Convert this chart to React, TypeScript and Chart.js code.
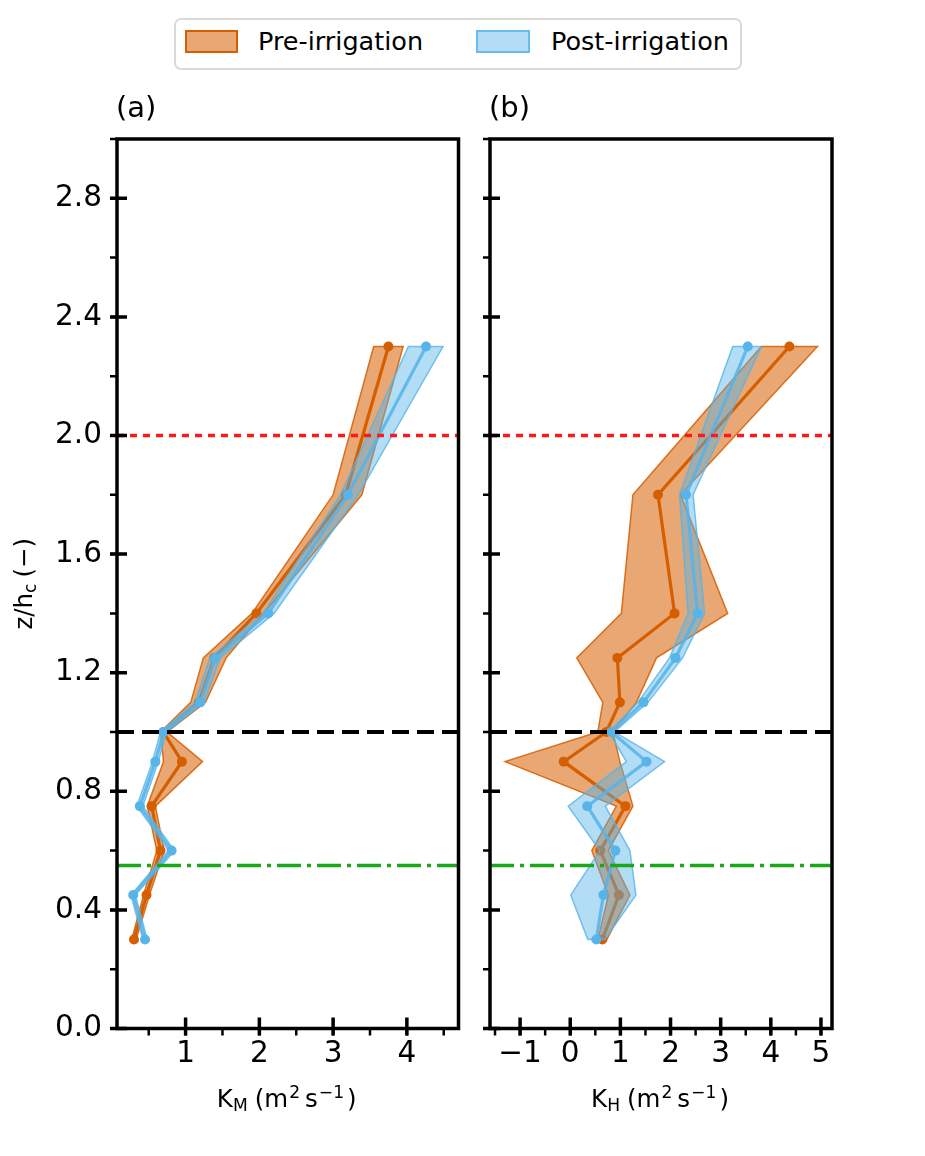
import { useEffect, useRef } from 'react';
import { Chart, registerables } from 'chart.js';

Chart.register(...registerables);

const FONT = "'DejaVu Sans', sans-serif";
const ORANGE = '#d55e00';
const BLUE = '#56b4e9';

// alturas normalizadas z/hc de los niveles de medida
const heights = [0.3, 0.45, 0.6, 0.75, 0.9, 1.0, 1.1, 1.25, 1.4, 1.8, 2.3];

// (a) K_M: media y banda (min / max)
const kmPreMean = [0.30, 0.47, 0.66, 0.54, 0.95, 0.70, 1.18, 1.39, 1.96, 3.17, 3.75];
const kmPreLow = [0.27, 0.43, 0.61, 0.48, 0.70, 0.66, 1.07, 1.24, 1.90, 3.00, 3.55];
const kmPreHigh = [0.33, 0.51, 0.71, 0.59, 1.23, 0.75, 1.27, 1.55, 2.06, 3.39, 3.95];
const kmPostMean = [0.45, 0.29, 0.81, 0.38, 0.59, 0.70, 1.20, 1.40, 2.12, 3.20, 4.26];
const kmPostLow = [0.42, 0.26, 0.77, 0.34, 0.55, 0.66, 1.13, 1.33, 2.05, 3.10, 4.02];
const kmPostHigh = [0.48, 0.32, 0.85, 0.42, 0.63, 0.74, 1.25, 1.47, 2.20, 3.34, 4.49];

// (b) K_H
const khPreMean = [0.64, 0.97, 0.60, 1.10, -0.13, 0.72, 0.99, 0.94, 2.08, 1.75, 4.37];
const khPreLow = [0.55, 0.76, 0.43, 0.92, -1.30, 0.55, 0.65, 0.13, 1.02, 1.25, 3.81];
const khPreHigh = [0.73, 1.19, 0.76, 1.25, 0.99, 0.85, 1.32, 1.72, 3.14, 2.20, 4.93];
const khPostMean = [0.52, 0.66, 0.90, 0.34, 1.52, 0.82, 1.46, 2.10, 2.54, 2.31, 3.54];
const khPostLow = [0.35, 0.01, 0.59, -0.04, 1.12, 0.77, 1.35, 1.98, 2.35, 2.18, 3.24];
const khPostHigh = [0.69, 1.31, 1.19, 0.70, 1.88, 0.88, 1.55, 2.24, 2.68, 2.45, 3.81];

// lineas de referencia: 2 hc, altura del dosel, altura media
const refHeights = [2.0, 1.0, 0.55];

const seriesNames = ['Pre-irrigation', 'Post-irrigation'];
const kmLimits = [0.07, 4.7];
const khLimits = [-1.6, 5.22];
const zLimits = [0, 3.0];

type Piece = { t: string; s?: number; dy?: number; gap?: number };

const kmTitle: Piece[] = [
  { t: 'K' },
  { t: 'M', s: 0.7, dy: 4 },
  { t: '(m', gap: 7 },
  { t: '2', s: 0.7, dy: -9, gap: 1 },
  { t: 's', gap: 5 },
  { t: '\u22121', s: 0.7, dy: -9, gap: 1 },
  { t: ')', gap: 3 },
];
const khTitle: Piece[] = kmTitle.map((p, i) => (i === 1 ? { ...p, t: 'H' } : p));
const zTitle: Piece[] = [
  { t: 'z/h' },
  { t: 'c', s: 0.7, dy: 4 },
  { t: '(\u2212)', gap: 6 },
];

const refStyles = [
  { color: '#ff1a1a', width: 3.5, dash: [7, 6] },
  { color: '#000000', width: 4, dash: [17, 8] },
  { color: '#1aa81a', width: 3.5, dash: [24, 6, 4, 6] },
];

function drawRich(ctx: CanvasRenderingContext2D, pieces: Piece[], cx: number, baseY: number, size: number) {
  const fontOf = (p: Piece) => `${size * (p.s ?? 1)}px ${FONT}`;
  let total = 0;
  const widths = pieces.map((p) => {
    ctx.font = fontOf(p);
    const w = ctx.measureText(p.t).width;
    total += w + (p.gap ?? 0);
    return w;
  });
  let x = cx - total / 2;
  ctx.textAlign = 'left';
  ctx.textBaseline = 'alphabetic';
  pieces.forEach((p, i) => {
    x += p.gap ?? 0;
    ctx.font = fontOf(p);
    ctx.fillText(p.t, x, baseY + (p.dy ?? 0));
    x += widths[i];
  });
}

function minorValues(min: number, max: number, step: number) {
  const out: number[] = [];
  for (let k = Math.ceil(min / step - 1e-9); k * step <= max + 1e-9; k++) out.push(k * step);
  return out;
}

interface PanelProps {
  label: string;
  left: number;
  width: number;
  axisWidth: number;
  rightPad: number;
  xLimits: number[];
  xMinor: number;
  pre: number[][];
  post: number[][];
  xTitle: Piece[];
  showYTitle: boolean;
  showYLabels: boolean;
}

const Panel = ({ label, left, width, axisWidth, rightPad, xLimits, xMinor, pre, post, xTitle, showYTitle, showYLabels }: PanelProps) => {
  const canvasRef = useRef<HTMLCanvasElement>(null);

  useEffect(() => {
    if (!canvasRef.current) return;
    const toPts = (xs: number[]) => xs.map((x, i) => ({ x, y: heights[i] }));
    const band = (low: number[], high: number[]) => [
      ...toPts(low),
      ...toPts(high).reverse(),
      { x: low[0], y: heights[0] },
    ];

    const decor = {
      id: 'decor',
      beforeDatasetDraw(chart: any, args: any) {
        const ds = chart.data.datasets[args.index];
        if (!ds.bandColor) return;
        const ctx = chart.ctx;
        ctx.save();
        ctx.beginPath();
        args.meta.data.forEach((p: any, i: number) => (i ? ctx.lineTo(p.x, p.y) : ctx.moveTo(p.x, p.y)));
        ctx.closePath();
        ctx.fillStyle = ds.bandColor;
        ctx.fill();
        ctx.restore();
      },
      afterDatasetsDraw(chart: any) {
        const { ctx, chartArea: a, scales } = chart;
        ctx.save();
        refHeights.forEach((z, i) => {
          const st = refStyles[i];
          const py = scales.y.getPixelForValue(z);
          ctx.strokeStyle = st.color;
          ctx.lineWidth = st.width;
          ctx.setLineDash(st.dash);
          ctx.beginPath();
          ctx.moveTo(a.left, py);
          ctx.lineTo(a.right, py);
          ctx.stroke();
        });
        ctx.restore();
      },
      afterDraw(chart: any) {
        const { ctx, chartArea: a, scales } = chart;
        const xs = scales.x;
        const ys = scales.y;
        ctx.save();
        ctx.strokeStyle = '#000';
        ctx.fillStyle = '#000';
        // ticks menores
        ctx.lineWidth = 2.5;
        ctx.beginPath();
        minorValues(ys.min, ys.max, 0.2).forEach((v) => {
          const py = ys.getPixelForValue(v);
          ctx.moveTo(a.left - 7, py);
          ctx.lineTo(a.left, py);
        });
        minorValues(xs.min, xs.max, xMinor).forEach((v) => {
          const px = xs.getPixelForValue(v);
          ctx.moveTo(px, a.bottom);
          ctx.lineTo(px, a.bottom + 7);
        });
        ctx.stroke();
        // ticks mayores
        ctx.lineWidth = 3.5;
        ctx.beginPath();
        ys.ticks.forEach((t: any) => {
          const py = ys.getPixelForValue(t.value);
          ctx.moveTo(a.left - 7, py);
          ctx.lineTo(a.left + 10, py);
        });
        xs.ticks.forEach((t: any) => {
          const px = xs.getPixelForValue(t.value);
          ctx.moveTo(px, a.bottom - 11);
          ctx.lineTo(px, a.bottom + 7);
        });
        ctx.stroke();
        // marco
        ctx.lineWidth = 3.5;
        ctx.strokeRect(a.left, a.top, a.right - a.left, a.bottom - a.top);
        // textos
        ctx.font = `29px ${FONT}`;
        ctx.textAlign = 'left';
        ctx.textBaseline = 'alphabetic';
        ctx.fillText(label, a.left - 1, a.top - 22);
        drawRich(ctx, xTitle, (a.left + a.right) / 2 - 1, a.bottom + 78.5, 24.5);
        if (showYTitle) {
          ctx.save();
          ctx.translate(32, (a.top + a.bottom) / 2);
          ctx.rotate(-Math.PI / 2);
          drawRich(ctx, zTitle, 0, 0, 24.5);
          ctx.restore();
        }
        ctx.restore();
      },
    };

    const chart = new Chart(canvasRef.current, {
      type: 'scatter',
      data: {
        datasets: [
          {
            label: seriesNames[0] + ' band',
            data: band(pre[1], pre[2]),
            showLine: true,
            borderColor: 'rgba(213, 94, 0, 0.85)',
            borderWidth: 1.5,
            pointRadius: 0,
            bandColor: 'rgba(213, 94, 0, 0.55)',
            order: 4,
          } as any,
          {
            label: seriesNames[0],
            data: toPts(pre[0]),
            showLine: true,
            borderColor: ORANGE,
            borderWidth: 3.2,
            pointRadius: 5,
            pointBackgroundColor: ORANGE,
            pointBorderWidth: 0,
            order: 3,
          },
          {
            label: seriesNames[1] + ' band',
            data: band(post[1], post[2]),
            showLine: true,
            borderColor: 'rgba(86, 180, 233, 0.8)',
            borderWidth: 1.5,
            pointRadius: 0,
            bandColor: 'rgba(86, 180, 233, 0.45)',
            order: 2,
          } as any,
          {
            label: seriesNames[1],
            data: toPts(post[0]),
            showLine: true,
            borderColor: 'rgba(86, 180, 233, 0.85)',
            borderWidth: 3.2,
            pointRadius: 5,
            pointBackgroundColor: BLUE,
            pointBorderWidth: 0,
            order: 1,
          },
        ],
      },
      options: {
        responsive: false,
        animation: false,
        events: [],
        layout: { padding: { top: 139, right: rightPad, left: 0, bottom: 0 } },
        plugins: { legend: { display: false }, tooltip: { enabled: false } },
        scales: {
          x: {
            type: 'linear',
            position: 'bottom',
            min: xLimits[0],
            max: xLimits[1],
            grid: { display: false, drawTicks: false },
            border: { display: false },
            afterFit: (s: any) => {
              s.height = 127.5;
            },
            ticks: {
              stepSize: 1,
              includeBounds: false,
              autoSkip: false,
              maxRotation: 0,
              padding: 8,
              color: '#000',
              font: { family: FONT, size: 29.5 },
              callback: (v: any) => (v < 0 ? '\u2212' + Math.abs(v) : String(v)),
            },
          },
          y: {
            type: 'linear',
            position: 'left',
            min: zLimits[0],
            max: zLimits[1],
            grid: { display: false, drawTicks: false },
            border: { display: false },
            afterFit: (s: any) => {
              s.width = axisWidth;
            },
            ticks: {
              display: showYLabels,
              stepSize: 0.4,
              includeBounds: false,
              autoSkip: false,
              padding: 15,
              color: '#000',
              font: { family: FONT, size: 29.5 },
              callback: (v: any) => Number(v).toFixed(1),
            },
          },
        },
      },
      plugins: [decor],
    });

    return () => {
      chart.destroy();
    };
  }, []);

  return (
    <canvas
      ref={canvasRef}
      width={width}
      height={1156}
      style={{ position: 'absolute', left, top: 0, width, height: 1156 }}
    />
  );
};

const Legend = () => (
  <div
    style={{
      position: 'absolute',
      left: 174,
      top: 18,
      width: 568,
      height: 52,
      boxSizing: 'border-box',
      border: '2px solid #dadada',
      borderRadius: 7,
      background: '#fff',
      fontFamily: FONT,
      fontSize: 25.5,
      color: '#000',
      zIndex: 2,
    }}
  >
    <div style={{ position: 'absolute', left: 9, top: 10, width: 53, height: 23, boxSizing: 'border-box', border: `2px solid ${ORANGE}`, background: 'rgba(213, 94, 0, 0.55)' }} />
    <div style={{ position: 'absolute', left: 82, top: 8, lineHeight: '26px', whiteSpace: 'nowrap' }}>{seriesNames[0]}</div>
    <div style={{ position: 'absolute', left: 300, top: 10, width: 54, height: 23, boxSizing: 'border-box', border: '2px solid rgba(86, 180, 233, 0.8)', background: 'rgba(86, 180, 233, 0.45)' }} />
    <div style={{ position: 'absolute', left: 375, top: 8, lineHeight: '26px', whiteSpace: 'nowrap' }}>{seriesNames[1]}</div>
  </div>
);

export default function App() {
  useEffect(() => {
    document.body.style.margin = '0';
  }, []);

  return (
    <div style={{ position: 'relative', width: 925, height: 1156, background: '#fff', overflow: 'hidden' }}>
      <Panel
        label="(a)"
        left={0}
        width={470}
        axisWidth={117}
        rightPad={11.5}
        xLimits={kmLimits}
        xMinor={0.5}
        pre={[kmPreMean, kmPreLow, kmPreHigh]}
        post={[kmPostMean, kmPostLow, kmPostHigh]}
        xTitle={kmTitle}
        showYTitle={true}
        showYLabels={true}
      />
      <Panel
        label="(b)"
        left={470}
        width={455}
        axisWidth={20}
        rightPad={93}
        xLimits={khLimits}
        xMinor={0.5}
        pre={[khPreMean, khPreLow, khPreHigh]}
        post={[khPostMean, khPostLow, khPostHigh]}
        xTitle={khTitle}
        showYTitle={false}
        showYLabels={false}
      />
      <Legend />
    </div>
  );
}
